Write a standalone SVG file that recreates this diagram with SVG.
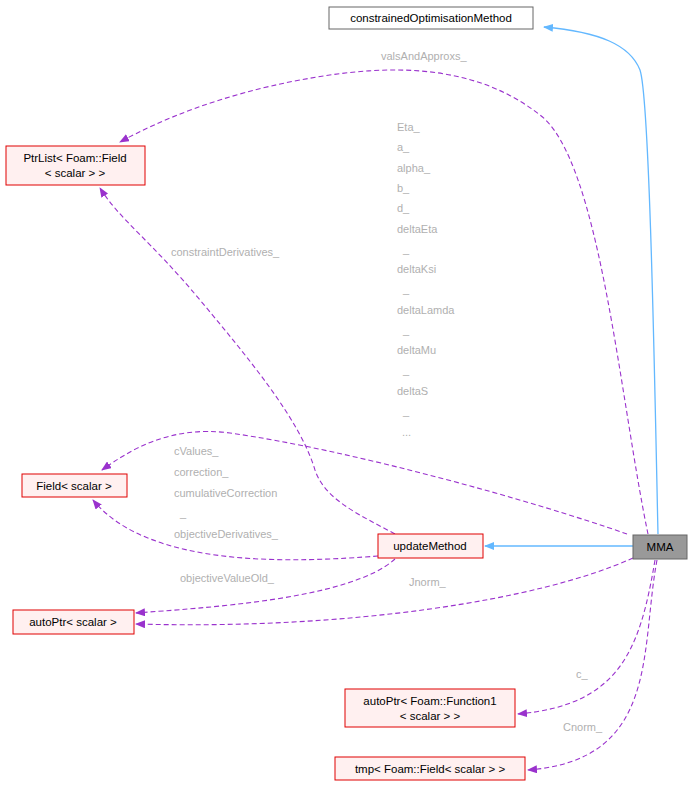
<svg xmlns="http://www.w3.org/2000/svg" width="692" height="787" viewBox="0 0 692 787">
<style>
.n rect{fill:#fff0f0;stroke:#e00000;stroke-width:1}
.t{font-family:"Liberation Sans",Arial,sans-serif;font-size:11.5px;fill:#000;text-anchor:middle}
.l{font-family:"Liberation Sans",Arial,sans-serif;font-size:11px;fill:#b0b0b0}
.d{fill:none;stroke:#9a32cd;stroke-dasharray:5,3;stroke-width:1.1}
.s{fill:none;stroke:#63b8ff;stroke-width:1.3}
</style>
<defs>
<marker id="ap" markerWidth="10" markerHeight="8" refX="9" refY="4" orient="auto" markerUnits="userSpaceOnUse"><path d="M0,0L10,4L0,8z" fill="#9a32cd"/></marker>
<marker id="ab" markerWidth="10" markerHeight="8" refX="9" refY="4" orient="auto" markerUnits="userSpaceOnUse"><path d="M0,0L10,4L0,8z" fill="#63b8ff"/></marker>
</defs>
<rect width="692" height="787" fill="#fff"/>
<g id="edges">
<path class="s" d="M658,534 C655,400 650,100 640,70 C630,45 600,32 544,27" marker-end="url(#ab)"/>
<path class="s" d="M633,546 L485,546" marker-end="url(#ab)"/>
<path class="d" d="M648,534 C620,400 600,160 540,115 C470,60 380,65 300,80 C220,95 160,120 120,142" marker-end="url(#ap)"/>
<path class="d" d="M395,534 C360,515 325,500 315,470 C300,420 250,360 200,300 C150,240 120,220 100,188" marker-end="url(#ap)"/>
<path class="d" d="M627,534 C530,500 350,450 230,433 C170,425 130,450 102,470" marker-end="url(#ap)"/>
<path class="d" d="M378,556 C300,562 150,570 93,500" marker-end="url(#ap)"/>
<path class="d" d="M395,559 C350,600 200,608 136,613" marker-end="url(#ap)"/>
<path class="d" d="M633,558 C540,600 350,630 136,624" marker-end="url(#ap)"/>
<path class="d" d="M655,560 C640,650 620,705 518,714" marker-end="url(#ap)"/>
<path class="d" d="M657,560 C640,650 660,760 528,770" marker-end="url(#ap)"/>
</g>
<g id="labels">
<text class="l" x="381" y="60">valsAndApproxs_</text>
<text class="l" x="397" y="131">Eta_</text>
<text class="l" x="397" y="151">a_</text>
<text class="l" x="397" y="172">alpha_</text>
<text class="l" x="397" y="192">b_</text>
<text class="l" x="397" y="212">d_</text>
<text class="l" x="397" y="233">deltaEta</text>
<text class="l" x="403" y="253">_</text>
<text class="l" x="397" y="273">deltaKsi</text>
<text class="l" x="403" y="293">_</text>
<text class="l" x="397" y="314">deltaLamda</text>
<text class="l" x="403" y="334">_</text>
<text class="l" x="397" y="354">deltaMu</text>
<text class="l" x="403" y="374">_</text>
<text class="l" x="397" y="395">deltaS</text>
<text class="l" x="403" y="415">_</text>
<text class="l" x="402" y="436">...</text>
<text class="l" x="171" y="256">constraintDerivatives_</text>
<text class="l" x="174" y="455">cValues_</text>
<text class="l" x="174" y="476">correction_</text>
<text class="l" x="174" y="497">cumulativeCorrection</text>
<text class="l" x="180" y="517">_</text>
<text class="l" x="174" y="538">objectiveDerivatives_</text>
<text class="l" x="180" y="582">objectiveValueOld_</text>
<text class="l" x="409" y="586">Jnorm_</text>
<text class="l" x="576" y="678">c_</text>
<text class="l" x="563" y="731">Cnorm_</text>
</g>
<g id="constrainedOptimisationMethod"><rect x="329" y="7" width="204" height="22" fill="#fff" stroke="#666"/><text class="t" x="431" y="22">constrainedOptimisationMethod</text></g>
<g id="PtrList" class="n"><rect x="6" y="146" width="139" height="39"/><text class="t" x="75" y="162">PtrList&lt; Foam::Field</text><text class="t" x="75" y="177">&lt; scalar &gt; &gt;</text></g>
<g id="Field" class="n"><rect x="22" y="474" width="105" height="23"/><text class="t" x="74" y="490">Field&lt; scalar &gt;</text></g>
<g id="updateMethod" class="n"><rect x="378" y="534" width="105" height="24"/><text class="t" x="430" y="550">updateMethod</text></g>
<g id="autoPtr" class="n"><rect x="13" y="610" width="121" height="24"/><text class="t" x="73" y="626">autoPtr&lt; scalar &gt;</text></g>
<g id="MMA"><rect x="633" y="535" width="54" height="24" fill="#999" stroke="#666"/><text class="t" x="660" y="551">MMA</text></g>
<g id="autoPtrFunction1" class="n"><rect x="345" y="689" width="170" height="38"/><text class="t" x="430" y="705">autoPtr&lt; Foam::Function1</text><text class="t" x="430" y="720">&lt; scalar &gt; &gt;</text></g>
<g id="tmp" class="n"><rect x="335" y="757" width="190" height="23"/><text class="t" x="430" y="773">tmp&lt; Foam::Field&lt; scalar &gt; &gt;</text></g>
</svg>
